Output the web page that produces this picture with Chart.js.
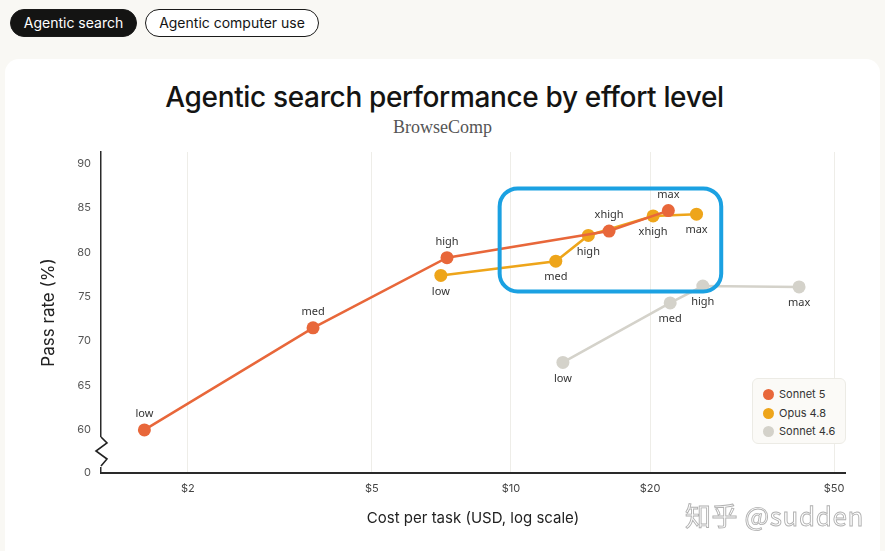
<!DOCTYPE html>
<html>
<head>
<meta charset="utf-8">
<script src="https://cdn.jsdelivr.net/npm/chart.js@4.4.1/dist/chart.umd.min.js"></script>
<style>
  html, body { margin:0; padding:0; width:885px; height:551px; overflow:hidden; background:#f9f8f4; font-family:Inter, sans-serif; }
  .tab { position:absolute; top:9px; height:28px; box-sizing:border-box; border-radius:14px; font-size:14px; line-height:26px; text-align:center; border:1px solid #1a1a19; }
  #t1 { left:10px; width:127px; background:#141413; color:#fff; }
  #t2 { left:145px; width:174px; background:#fff; color:#141413; }
  #card { position:absolute; left:5px; top:59px; width:875px; height:540px; background:#fff; border-radius:14px; }
  #title { position:absolute; top:80px; left:0; width:889px; text-align:center; font-size:28px; font-weight:500; color:#141413; letter-spacing:-0.35px; }
  #sub { position:absolute; top:117px; left:0; width:885px; text-align:center; font-family:"Liberation Serif", serif; font-size:18px; color:#555; }
  #chartWrap { position:absolute; left:0; top:0; width:885px; height:551px; }
  #legend { position:absolute; left:752px; top:378px; width:94px; height:66px; box-sizing:border-box; background:#fbfaf7; border:1px solid #ecebe5; border-radius:6px; padding:7px 0 0 10px; font-size:11px; color:#333; }
  #legend div { height:18.5px; line-height:16px; white-space:nowrap; }
  #legend span { display:inline-block; width:11px; height:11px; border-radius:50%; vertical-align:-2px; margin-right:5px; }
  #wm { position:absolute; left:685px; top:496px; font-family:"Noto Sans CJK SC", sans-serif; font-size:26px; color:#fff; -webkit-text-stroke:0.9px #b0b0b0; letter-spacing:0.6px; }
</style>
</head>
<body>
<div class="tab" id="t1">Agentic search</div>
<div class="tab" id="t2">Agentic computer use</div>
<div id="card"></div>
<div id="title">Agentic search performance by effort level</div>
<div id="sub">BrowseComp</div>
<div id="chartWrap"><canvas id="chart" width="885" height="551"></canvas></div>
<div id="legend"></div>
<div id="wm">知乎 @sudden</div>
<script>
// effort levels per model
const sonnet5Effort = ['low', 'med', 'high', 'xhigh', 'max'];
const opus48Effort = ['low', 'med', 'high', 'xhigh', 'max'];
const sonnet46Effort = ['low', 'med', 'high', 'max'];

// cost per task (USD) and pass rate (%)
const sonnet5Cost = [1.61, 3.73, 7.27, 16.3, 21.9];
const sonnet5Pass = [60.0, 71.5, 79.4, 82.4, 84.7];
const opus48Cost = [7.05, 12.5, 14.7, 20.3, 25.2];
const opus48Pass = [77.4, 79.0, 81.9, 84.1, 84.3];
const sonnet46Cost = [12.95, 22.1, 26.0, 42.0];
const sonnet46Pass = [67.6, 74.3, 76.2, 76.1];

const xTicks = [2, 5, 10, 20, 50];
const yTicks = [60, 65, 70, 75, 80, 85, 90];

// highlighted region (cost range, pass range)
const highlightCost = [9.45, 28.5];
const highlightPass = [75.6, 87.2];

const COLORS = { 'Sonnet 5':'#e8673a', 'Opus 4.8':'#eea51a', 'Sonnet 4.6':'#d4d2ca' };

const Y_MIN = 55.15;

function pts(xs, ys) { return xs.map((x, i) => ({ x, y: ys[i] })); }

const datasets = [
  { label:'Sonnet 5', data: pts(sonnet5Cost, sonnet5Pass), efforts: sonnet5Effort, below:false },
  { label:'Opus 4.8', data: pts(opus48Cost, opus48Pass), efforts: opus48Effort, below:true },
  { label:'Sonnet 4.6', data: pts(sonnet46Cost, sonnet46Pass), efforts: sonnet46Effort, below:true }
].map(d => Object.assign(d, {
  borderColor: COLORS[d.label],
  backgroundColor: COLORS[d.label],
  pointBackgroundColor: COLORS[d.label],
  borderWidth: 2.5,
  pointRadius: 6.5,
  pointBorderWidth: 0,
  tension: 0
}));

// effort labels next to each point
const pointLabels = {
  id: 'pointLabels',
  afterDatasetsDraw(chart) {
    const ctx = chart.ctx;
    ctx.save();
    ctx.font = '11px "Noto Sans", sans-serif';
    ctx.fillStyle = '#333';
    ctx.textAlign = 'center';
    ctx.textBaseline = 'middle';
    chart.data.datasets.forEach((ds, di) => {
      chart.getDatasetMeta(di).data.forEach((p, i) => {
        ctx.fillText(ds.efforts[i], p.x, p.y + (ds.below ? 16 : -16));
      });
    });
    ctx.restore();
  }
};

// axis break + blue highlight box
const extras = {
  id: 'extras',
  afterDraw(chart) {
    const ctx = chart.ctx, a = chart.chartArea;
    const xs = chart.scales.x, ys = chart.scales.y;
    ctx.save();
    // zigzag break on y axis
    const b = a.bottom, l = a.left;
    ctx.fillStyle = '#fff';
    ctx.fillRect(l - 3, b - 36, 6, 30);
    ctx.strokeStyle = '#222';
    ctx.lineWidth = 1.6;
    ctx.beginPath();
    ctx.moveTo(l, b - 36);
    ctx.lineTo(l + 6, b - 30);
    ctx.lineTo(l - 5, b - 22);
    ctx.lineTo(l + 6, b - 14);
    ctx.lineTo(l, b - 7);
    ctx.stroke();
    // highlight
    const x0 = xs.getPixelForValue(highlightCost[0]), x1 = xs.getPixelForValue(highlightCost[1]);
    const y0 = ys.getPixelForValue(highlightPass[1]), y1 = ys.getPixelForValue(highlightPass[0]);
    ctx.strokeStyle = '#1ba1e2';
    ctx.lineWidth = 4;
    ctx.beginPath();
    ctx.roundRect(x0, y0, x1 - x0, y1 - y0, 18);
    ctx.stroke();
    ctx.restore();
  }
};

const chart = new Chart(document.getElementById('chart').getContext('2d'), {
  type: 'line',
  data: { datasets },
  options: {
    responsive: false,
    animation: false,
    layout: { padding: { left: 0, top: 152, right: 40, bottom: 0 } },
    plugins: { legend: { display: false }, tooltip: { enabled: false } },
    scales: {
      x: {
        type: 'logarithmic',
        min: 1.297, max: 52.8,
        afterBuildTicks: s => { s.ticks = xTicks.map(v => ({ value: v, major: false })); },
        afterFit: s => { s.height = 78; },
        ticks: { color: '#444', font: { family: 'Inter', size: 11 }, padding: 9, maxRotation: 0, autoSkip: false,
          callback: v => '$' + v },
        grid: { color: '#eeede8', lineWidth: 1, drawTicks: false },
        border: { display: true, color: '#2a2a2a', width: 2 },
        title: { display: true, text: 'Cost per task (USD, log scale)', color: '#222',
          font: { family: 'Inter', size: 15 }, padding: { top: 4, bottom: 24 } }
      },
      y: {
        type: 'linear',
        min: Y_MIN, max: 91.3,
        afterBuildTicks: s => { s.ticks = [Y_MIN].concat(yTicks).map(v => ({ value: v })); },
        afterFit: s => { s.width = 101; },
        ticks: { color: '#555', font: { family: 'Inter', size: 11 }, padding: 10,
          callback: v => v < 59 ? '0' : v },
        grid: { display: false, drawTicks: false },
        border: { display: true, color: '#2a2a2a', width: 1.5 },
        title: { display: true, text: 'Pass rate (%)', color: '#222',
          font: { family: 'Inter', size: 17 }, padding: { top: 39, bottom: 4 } }
      }
    }
  },
  plugins: [pointLabels, extras]
});

// HTML legend from the datasets
document.getElementById('legend').innerHTML = chart.data.datasets
  .map(d => `<div><span style="background:${d.borderColor}"></span>${d.label}</div>`).join('');
</script>
</body>
</html>
